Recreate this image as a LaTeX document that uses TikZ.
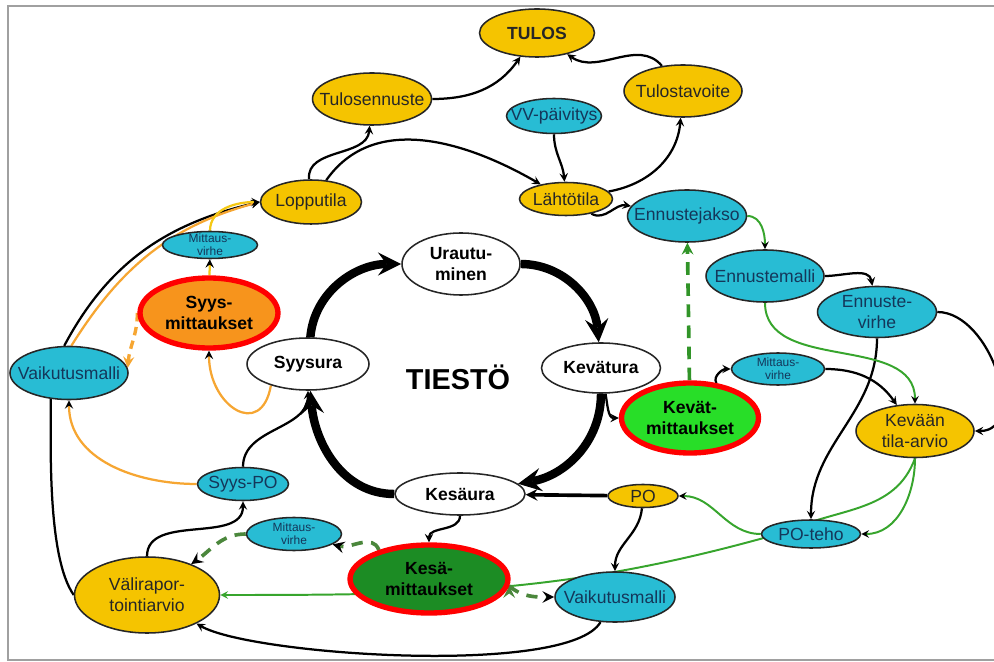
\documentclass[tikz,border=0pt]{standalone}
\usepackage{fontspec}
\setmainfont{Liberation Sans}
\usetikzlibrary{shapes.geometric, backgrounds}

\definecolor{kelta}{RGB}{245,196,0}
\definecolor{syaani}{RGB}{40,188,212}
\definecolor{oranssi}{RGB}{247,148,28}
\definecolor{vaaleavihrea}{RGB}{40,222,40}
\definecolor{tummavihrea}{RGB}{28,140,36}
\definecolor{vihrea}{RGB}{55,165,45}
\definecolor{oliivi}{RGB}{75,135,60}
\definecolor{oranssiviiva}{RGB}{246,166,50}
\definecolor{keltaviiva}{RGB}{245,200,20}
\definecolor{tekstisin}{RGB}{20,55,90}
\definecolor{kehys}{RGB}{160,160,160}

\tikzset{> = stealth,
  every node/.style={font=\fontsize{12.5}{15}\selectfont},
  wh/.style 2 args={minimum width=#1*0.025cm, minimum height=#2*0.025cm},
  soikio/.style={ellipse, draw=black!85, line width=1.1pt, align=center, inner xsep=-0.35cm, inner ysep=-0.1cm},
  keltainen/.style={soikio, fill=kelta, text=black!85},
  sininen/.style={soikio, fill=syaani, text=tekstisin},
  pieni/.style={sininen, font=\fontsize{8.5}{9.5}\selectfont},
  valkoinen/.style={soikio, fill=white, font=\fontsize{12.5}{15}\selectfont\bfseries},
  mittaus/.style={soikio, draw=red, line width=3.8pt, font=\fontsize{12.5}{15}\selectfont\bfseries},
  musta/.style={->, line width=1.6pt},
  vihreaviiva/.style={->, draw=vihrea, line width=1.4pt},
  katko/.style={->, draw=oliivi, line width=2.6pt, dash pattern=on 8pt off 6pt},
  oranssikaari/.style={->, draw=oranssiviiva, line width=1.6pt}
}

\begin{document}
\begin{tikzpicture}[x=0.025cm, y=0.025cm]
\useasboundingbox (0,0) rectangle (994,-662);
% nodes
\node[keltainen, wh={115}{48}, font=\fontsize{12.5}{15}\selectfont\bfseries] (TULOS) at (537,-33) {TULOS};
\node[keltainen, wh={119}{52}] (Tulosennuste) at (372,-99) {Tulosennuste};
\node[keltainen, wh={118}{52}] (Tulostavoite) at (683,-91) {Tulostavoite};
\node[sininen, wh={95}{35}] (VVpaivitys) at (554,-116) {VV-päivitys};
\node[keltainen, wh={101}{44}] (Lopputila) at (311,-202) {Lopputila};
\node[keltainen, wh={93}{33}] (Lahtotila) at (566,-199) {Lähtötila};
\node[sininen, wh={119}{52}] (Ennustejakso) at (687,-216) {Ennustejakso};
\node[sininen, wh={118}{52}] (Ennustemalli) at (765,-276) {Ennustemalli};
\node[sininen, wh={119}{51}] (Ennustevirhe) at (877,-312) {Ennuste-\\virhe};
\node[pieni, wh={95}{27}] (MvSyys) at (210,-245) {Mittaus-\\virhe};
\node[mittaus, fill=oranssi, wh={138}{70}] (SyysMitt) at (209,-313) {Syys-\\mittaukset};
\node[valkoinen, wh={118}{62}] (Urautuminen) at (461,-264) {Urautu-\\minen};
\node[valkoinen, wh={122}{52}] (Syysura) at (308,-364) {Syysura};
\node[font=\fontsize{20.5}{24}\selectfont\bfseries] (Tiesto) at (458,-377) {TIESTÖ};
\node[valkoinen, wh={119}{50}] (Kevatura) at (601,-368) {Kevätura};
\node[mittaus, fill=vaaleavihrea, wh={137}{70}] (KevatMitt) at (690,-418) {Kevät-\\mittaukset};
\node[pieni, wh={93}{32}] (MvKevat) at (778,-369) {Mittaus-\\virhe};
\node[keltainen, wh={118}{53}] (KevaanTila) at (915,-431) {Kevään\\tila-arvio};
\node[sininen, wh={118}{53}] (VaikLeft) at (69,-373) {Vaikutusmalli};
\node[sininen, wh={91}{33}] (SyysPO) at (243,-484) {Syys-PO};
\node[valkoinen, wh={130}{42}] (Kesaura) at (460,-494) {Kesäura};
\node[keltainen, wh={70}{23}] (PO) at (643,-496) {PO};
\node[sininen, wh={99}{28}] (POteho) at (811,-534) {PO-teho};
\node[pieni, wh={95}{33}] (MvKesa) at (294,-534) {Mittaus-\\virhe};
\node[mittaus, fill=tummavihrea, wh={158}{68}] (KesaMitt) at (429,-579) {Kesä-\\mittaukset};
\node[sininen, wh={120}{50}] (VaikRight) at (615,-597) {Vaikutusmalli};
\node[keltainen, wh={145}{76}] (Valirap) at (147,-595) {Välirapor-\\tointiarvio};
\coordinate (gkaari) at (785,-532); % long green line runs behind PO-teho

\begin{scope}[on background layer]
% frame
\draw[kehys, line width=1.5pt] (994,-6) -- (8,-6) -- (8,-660) -- (994,-660);
% edges
\draw[musta]
(Tulosennuste) edge[out=0, in=235] (TULOS)
(Tulostavoite) edge[out=130, in=-35] (TULOS)
(Lopputila) edge[out=95, in=-95] (Tulosennuste)
(Lopputila) edge[out=55, in=150] (Lahtotila)
(VVpaivitys) edge[out=-90, in=95] (Lahtotila)
(Lahtotila) edge[out=10, in=-95] (Tulostavoite)
(Lahtotila) edge[out=-30, in=170] (Ennustejakso)
(Ennustemalli) edge[out=0, in=100] (Ennustevirhe)
(Ennustevirhe) edge[out=0, in=0, looseness=1.1] (KevaanTila)
(Ennustevirhe) edge[out=-90, in=90] (POteho)
(KevatMitt.53) edge[out=120, in=180] (MvKevat)
(MvKevat) edge[out=0, in=125] (KevaanTila)
(Kevatura) edge[out=-80, in=180] (KevatMitt)
(PO) edge[out=-95, in=90] (VaikRight)
(VaikRight) edge[out=-120, in=-30, looseness=0.4] (Valirap)
(Kesaura) edge[out=-90, in=90] (KesaMitt)
(Valirap) edge[out=90, in=-90] (SyysPO)
(SyysPO) edge[out=90, in=-90] (Syysura)
(VaikLeft.100) edge[out=62, in=193] (Lopputila.west);
\draw[line width=1.6pt] (Valirap.west) to[out=125, in=-90, looseness=0.6] (VaikLeft.-125);
\draw[->, line width=2.6pt] (PO) edge (Kesaura);
% the yearly cycle
\draw[->, line width=6pt]
(Urautuminen) edge[out=0, in=95] (Kevatura)
(Kevatura) edge[out=-90, in=10] (Kesaura)
(Kesaura) edge[out=180, in=-85] (Syysura)
(Syysura) edge[out=85, in=180] (Urautuminen);
% green
\draw[vihreaviiva]
(Ennustejakso) edge[out=0, in=90] (Ennustemalli)
(Ennustemalli) edge[out=-90, in=90] (KevaanTila)
(KevaanTila) edge[out=-90, in=0] (POteho)
(POteho) edge[out=180, in=0] (PO);
\draw[vihreaviiva] (KevaanTila.south) to[out=-110, in=25] (gkaari) to[out=196, in=0] (Valirap);
\draw[->, draw=vihrea!90!black, line width=2.6pt, dash pattern=on 9pt off 6pt] (KevatMitt) -- (Ennustejakso);
\draw[katko]
(KesaMitt.150) edge[out=110, in=-15] (MvKesa)
(MvKesa) edge[out=180, in=35] (Valirap)
(KesaMitt.-5) edge[out=-40, in=180] (VaikRight);
% orange and yellow
\draw[oranssikaari]
(SyysPO) edge[out=180, in=-90] (VaikLeft)
(Syysura.-150) edge[out=-100, in=-90, looseness=2] (SyysMitt)
(VaikLeft.85) edge[out=58, in=195] (Lopputila.west);
\draw[oranssikaari, line width=2.4pt, dash pattern=on 6pt off 4pt] (SyysMitt.west) to[out=-90, in=85] (VaikLeft.5);
\draw[->, draw=keltaviiva, line width=1.6pt]
(SyysMitt) edge (MvSyys)
(MvSyys) edge[out=90, in=180] (Lopputila);
\end{scope}
\end{tikzpicture}
\end{document}
